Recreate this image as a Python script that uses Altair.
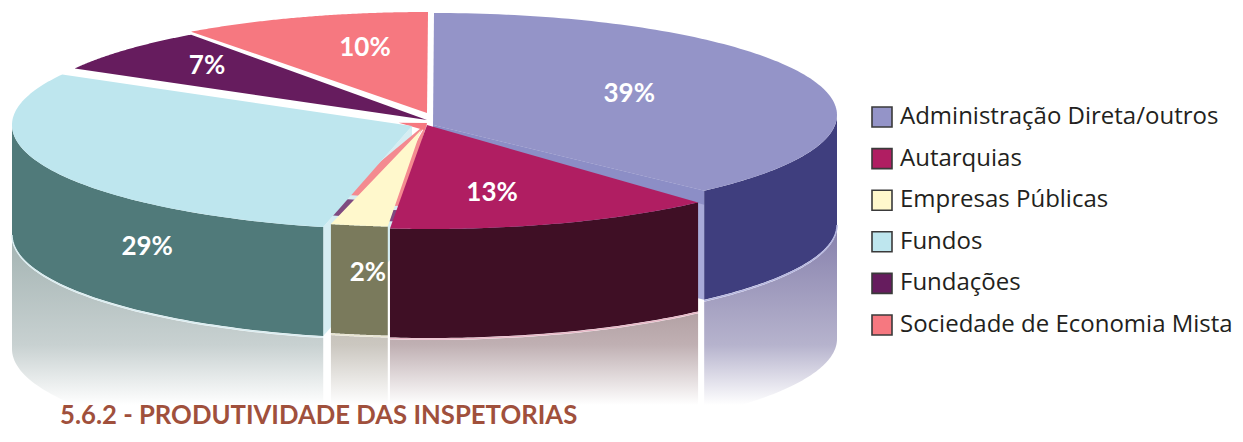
import math
import altair as alt
import pandas as pd

# ---------- data ----------
labels = ["Administração Direta/outros", "Autarquias", "Empresas Públicas",
          "Fundos", "Fundações", "Sociedade de Economia Mista"]
shares = [39, 13, 2, 29, 7, 10]
title_text = "5.6.2 - PRODUTIVIDADE DAS INSPETORIAS"

# ---------- styles ----------
top_colors = ["#9494C8", "#B01E62", "#FFF8CC", "#BEE6EE", "#661C5E", "#F67880"]
wall_colors = {0: "#3F3E7E", 1: "#3F0F25", 2: "#7A7A5C", 3: "#507A7A"}
reflect_colors = {0: "#8680AC", 1: "#967C80", 2: "#A8A296", 3: "#A3B3B2"}
edge_colors = {0: "#B5B6E0", 1: "#E8B7C6", 2: "#E8E4D0", 3: "#D9ECF0"}
cut_colors = {0: "#A8AAD8", 3: "#D5EDF2"}
cut_top_color = "#8C8EC6"

# ---------- projection: each exploded slice has its own ellipse and hub ----------
DEPTH = 109
REFLECT = 115
geom = [
    dict(c=(434, 115), hub=(433, 125), rx=403, ry=102, nudge=(0, -2.5)),
    dict(c=(430, 124), hub=(427, 125), rx=403, ry=105, nudge=(-2.1, -1.5)),
    dict(c=(425, 122), hub=(421, 130), rx=403, ry=105, nudge=(-1.9, -0.9)),
    dict(c=(418, 125), hub=(412, 126), rx=406, ry=105, nudge=(-0.9, 0)),
    dict(c=(428, 118), hub=(427, 120), rx=403, ry=103, nudge=(0, 0)),
    dict(c=(428, 115), hub=(427, 113), rx=403, ry=103, nudge=(0, 0)),
]
# radial fraction and vertical drop of each percentage label
label_place = [(0.515, -3), (0.552, 13), (0.756, 73), (0.727, 92), (0.731, -2), (0.506, -17)]

cum = [0]
for s in shares:
    cum.append(cum[-1] + s)
spans = [(cum[i] * 3.6 + geom[i]["nudge"][0], cum[i + 1] * 3.6 + geom[i]["nudge"][1])
         for i in range(len(shares))]


def rim(i, deg, z=0, r=1.0):
    g = geom[i]
    t = math.radians(deg)
    return (g["c"][0] + g["rx"] * r * math.sin(t), g["c"][1] - g["ry"] * r * math.cos(t) + z)


def arc(i, a, b, z=0, n=60):
    return [rim(i, a + (b - a) * k / n, z) for k in range(n + 1)]


def to_df(pts):
    return pd.DataFrame({"x": [p[0] for p in pts], "y": [p[1] for p in pts],
                         "o": list(range(len(pts)))})


X = alt.X("x:Q", scale=alt.Scale(domain=[8, 1235], nice=False, zero=False), axis=None)
Y = alt.Y("y:Q", scale=alt.Scale(domain=[430, 8], nice=False, zero=False), axis=None)


def poly(pts, fill):
    return alt.Chart(to_df(pts)).mark_line(fill=fill, strokeWidth=0, clip=True).encode(
        x=X, y=Y, order="o:Q")


def line(pts, color, w=1.5):
    return alt.Chart(to_df(pts)).mark_line(stroke=color, strokeWidth=w, clip=True).encode(
        x=X, y=Y, order="o:Q")


def hexmix(c, f):
    v = [int(c[k:k + 2], 16) for k in (1, 3, 5)]
    return "#%02X%02X%02X" % tuple(round(a + (255 - a) * f) for a in v)


def fade(y):
    if y <= 240:
        return 0.0
    if y <= 345:
        return 0.4 * (y - 240) / 105
    if y <= 405:
        return 0.4 + 0.6 * (y - 345) / 60
    return 1.0


def reflection(i, a, b):
    top = arc(i, a, b, DEPTH + 2)
    bottom = arc(i, a, b, DEPTH + REFLECT)
    pts = top + bottom[::-1]
    y0 = min(p[1] for p in pts)
    y1 = max(p[1] for p in pts)
    stops = []
    for y in [y0, 345, 405, y1]:
        if y0 <= y <= y1:
            stops.append(alt.GradientStop(color=hexmix(reflect_colors[i], fade(y)),
                                          offset=(y - y0) / (y1 - y0)))
    return poly(pts, alt.Gradient(gradient="linear", stops=stops, x1=0, x2=0, y1=0, y2=1))


def wall(i, a, b):
    return poly(arc(i, a, b) + arc(i, a, b, DEPTH)[::-1], wall_colors[i])


def cut(i, deg):
    h = geom[i]["hub"]
    c = rim(i, deg)
    return poly([h, c, (c[0], c[1] + DEPTH), (h[0], h[1] + DEPTH)], cut_colors[i])


def band(deg0, deg1, r0, r1, fill, hub=(427, 123), ref=2):
    c0, c1 = rim(ref, deg0), rim(ref, deg1)
    m = lambda c, r: (hub[0] + (c[0] - hub[0]) * r, hub[1] + (c[1] - hub[1]) * r)
    return poly([m(c0, r0), m(c1, r0), m(c1, r1), m(c0, r1)], fill)


layers = []
# reflections
layers += [reflection(0, 90, spans[0][1]), reflection(1, spans[1][0], spans[1][1]),
           reflection(2, spans[2][0], spans[2][1]), reflection(3, spans[3][0], 270)]
# inner cut faces
layers += [cut(0, spans[0][1]), cut(3, spans[3][0])]
corner = rim(0, spans[0][1])
layers += [poly([geom[0]["hub"], corner, (corner[0], corner[1] + 14), (geom[0]["hub"][0], geom[0]["hub"][1] + 4)],
                cut_top_color)]
# outer walls
layers += [wall(0, 90, spans[0][1]), wall(3, spans[3][0], 270), wall(2, *spans[2]), wall(1, *spans[1])]
# lit edges below the walls
layers += [line(arc(0, 90, spans[0][1], DEPTH + 1), edge_colors[0]),
           line(arc(1, *spans[1], DEPTH + 1), edge_colors[1]),
           line(arc(2, *spans[2], DEPTH + 1), edge_colors[2]),
           line(arc(3, spans[3][0], 270, DEPTH + 1), edge_colors[3])]
# slivers seen through the gaps
layers += [band(190, 197, 0, 0.72, "#F48A90"), band(190, 197, 0.76, 0.92, "#7F4A80"),
           band(184, 188, 0, 0.8, "#F48A90"), band(184, 188, 0.84, 0.95, "#7F4A80"),
           band(184, 272, 0, 0.07, "#F67880")]

# slice tops with the legend
fill_scale = alt.Scale(domain=labels, range=top_colors)
frames = []
for idx in range(len(shares)):
    a, b = spans[idx]
    d = to_df([geom[idx]["hub"]] + arc(idx, a, b, n=120))
    d["label"] = labels[idx]
    frames.append(d)

legend_def = alt.Legend(orient="none", legendX=862, legendY=97, title=None,
                        symbolType="square", symbolSize=400, symbolStrokeWidth=1.6,
                        symbolStrokeColor="#3A3A3A", symbolOpacity=1,
                        labelFont="Open Sans", labelFontSize=24, labelColor="#231F20",
                        labelLimit=380, labelOffset=6, rowPadding=13.6)
for idx in [0, 5, 4, 3, 2, 1]:
    layers.append(
        alt.Chart(frames[idx]).mark_line(strokeWidth=0, clip=True).encode(
            x=X, y=Y, order="o:Q", detail="label:N",
            fill=alt.Fill("label:N", scale=fill_scale,
                          legend=legend_def if idx == 0 else None)))

# percentage labels
lab = []
for idx, s in enumerate(shares):
    mid = (cum[idx] + s / 2) * 3.6
    r, drop = label_place[idx]
    px, py = rim(idx, mid, drop, r)
    lab.append({"x": px, "y": py, "t": f"{s}%"})
layers.append(alt.Chart(pd.DataFrame(lab)).mark_text(
    font="Lato", fontWeight="bold", fontSize=26, color="white").encode(x=X, y=Y, text="t:N"))

chart = alt.layer(*layers).properties(
    width=1227, height=422, padding=0,
    autosize=alt.AutoSizeParams(type="none"),
    title=alt.TitleParams(title_text, orient="bottom", anchor="start", offset=-26, dx=52,
                          font="Lato", fontWeight="bold", fontSize=25.7, color="#A0503C"),
).configure_view(stroke=None)

chart.save("out.html", embed_options={"renderer": "svg", "actions": False})
